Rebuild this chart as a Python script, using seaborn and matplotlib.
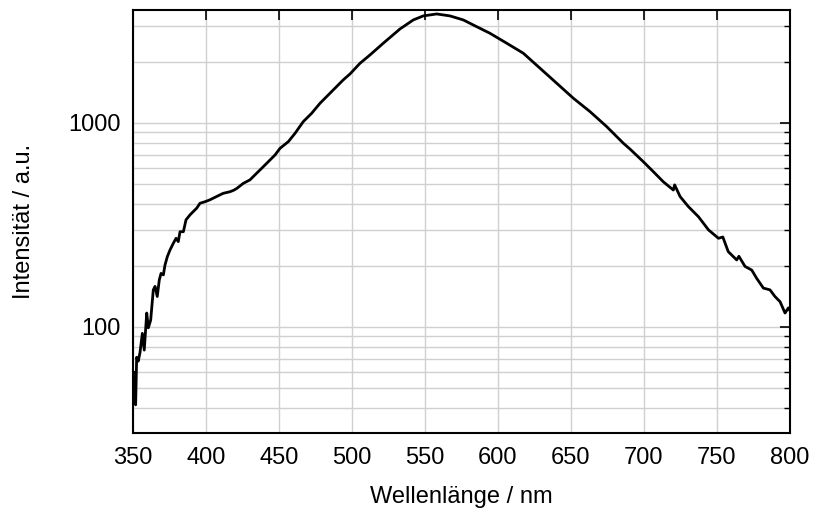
import numpy as np
import pandas as pd
import seaborn as sns
import matplotlib.pyplot as plt
from matplotlib.ticker import LogLocator, NullFormatter, FixedLocator

# spectrum
wavelength = [
    350.0, 350.7, 351.8, 352.5, 353.6, 354.8, 356.4, 357.7, 359.4, 360.5,
    362.1, 363.9, 365.1, 366.6, 368.0, 369.2, 370.8, 371.9, 373.5, 375.3,
    377.6, 379.5, 381.0, 382.2, 384.5, 386.3, 389.0, 391.3, 393.6, 395.9,
    399.3, 402.7, 407.3, 411.8, 416.4, 419.0, 421.0, 425.6, 430.1, 434.7,
    438.2, 442.7, 447.3, 450.7, 456.4, 461.0, 466.6, 472.4, 478.1, 484.9,
    494.0, 498.6, 505.5, 512.3, 521.4, 532.9, 542.0, 548.8, 558.0, 567.1,
    576.2, 585.4, 594.5, 606.0, 617.3, 628.8, 640.2, 651.6, 663.0, 674.5,
    685.9, 690.4, 699.5, 706.4, 713.2, 720.1, 721.0, 724.7, 730.4, 737.3,
    744.2, 751.0, 754.0, 757.7, 763.5, 765.0, 769.2, 773.8, 777.2, 781.8,
    786.3, 789.7, 793.2, 796.6, 798.9, 800.0,
]
intensity = [
    55, 60, 41.5, 71, 68, 75, 93, 77, 117, 99,
    108, 152, 158, 141, 170, 183, 180, 201, 221, 238,
    257, 272, 262, 293, 293, 335, 354, 368, 382, 404,
    411, 420, 436, 452, 460, 468, 477, 506, 526, 567,
    600, 646, 697, 751, 810, 890, 1015, 1116, 1249, 1398,
    1626, 1738, 1962, 2154, 2459, 2891, 3200, 3348, 3423, 3348,
    3200, 2965, 2752, 2459, 2198, 1854, 1566, 1322, 1137, 959,
    795, 745, 646, 577, 515, 469, 497, 436, 389, 347,
    299, 272, 276, 234, 213, 222, 198, 190, 173, 155,
    152, 141, 133, 117, 124, 120,
]

df = pd.DataFrame({'Wellenlänge': wavelength, 'Intensität': intensity})

sns.set_style('white')
plt.rcParams['font.family'] = ['Liberation Sans', 'DejaVu Sans']

fig = plt.figure(figsize=(8.14, 5.09), dpi=100)
ax = fig.add_axes([0.1634, 0.1493, 0.8071, 0.8311])

sns.lineplot(data=df, x='Wellenlänge', y='Intensität', color='black',
             linewidth=2, ax=ax)

ax.set_yscale('log')
ax.set_xlim(350, 800)
ax.set_ylim(30.2, 3580)
ax.xaxis.set_major_locator(FixedLocator([350, 400, 450, 500, 550, 600, 650, 700, 750, 800]))
ax.yaxis.set_minor_locator(LogLocator(base=10, subs=np.arange(2, 10)))
ax.yaxis.set_minor_formatter(NullFormatter())
ax.set_yticks([100, 1000])
ax.set_yticklabels(['100', '1000'])

ax.grid(True, which='major', color='#d0d0d0', linewidth=1)
ax.grid(True, which='minor', axis='y', color='#d0d0d0', linewidth=1)
ax.set_axisbelow(True)

ax.tick_params(which='both', direction='in', top=True, right=True,
               colors='black', labelsize=17)
ax.tick_params(axis='x', pad=10)
ax.tick_params(axis='y', pad=9)
ax.tick_params(which='major', length=7, width=1.2)
ax.tick_params(which='minor', length=4, width=1)
for s in ax.spines.values():
    s.set_color('black')
    s.set_linewidth(1.5)

ax.set_xlabel('Wellenlänge / nm', fontsize=17, labelpad=12, color='black')
ax.set_ylabel('Intensität / a.u.', fontsize=17, labelpad=24, color='black')

plt.savefig('out.png', dpi=100)
